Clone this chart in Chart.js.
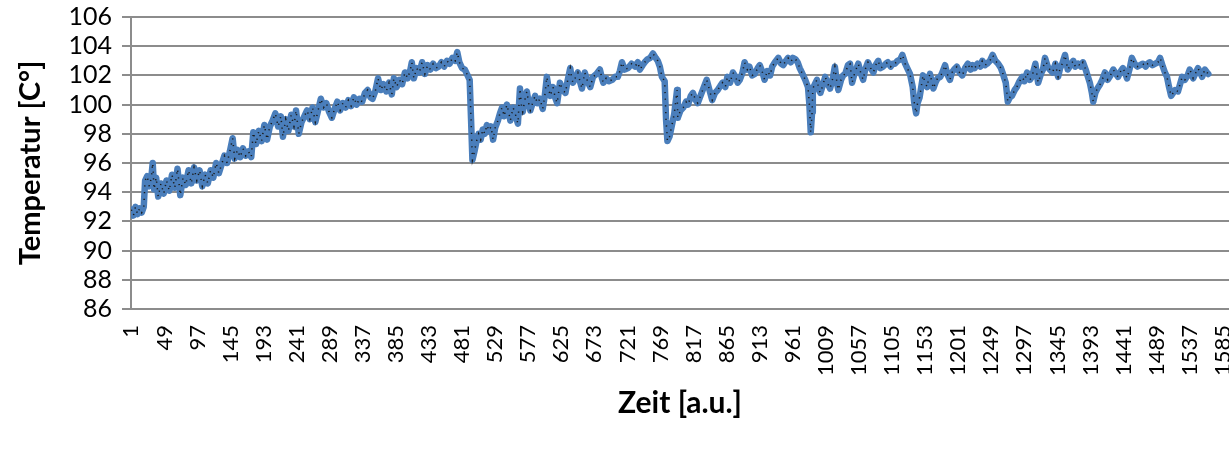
<!DOCTYPE html>
<html>
<head>
<meta charset="utf-8">
<script src="https://cdn.jsdelivr.net/npm/chart.js@4.4.1/dist/chart.umd.min.js"></script>
<style>
  html, body { margin: 0; padding: 0; background: #fff; }
  #wrap { width: 1229px; height: 450px; }
</style>
</head>
<body>
<div id="wrap"><canvas id="tempChart"></canvas></div>
<script>
// x tick labels (category numbers shown on the axis)
const xTickLabels = [1, 49, 97, 145, 193, 241, 289, 337, 385, 433, 481, 529, 577, 625, 673, 721, 769,
    817, 865, 913, 961, 1009, 1057, 1105, 1153, 1201, 1249, 1297, 1345, 1393, 1441, 1489, 1537, 1585];
const yTicks = [86, 88, 90, 92, 94, 96, 98, 100, 102, 104, 106];

const zeit = [
    1, 4, 7, 10, 13, 16, 19, 21, 24, 27, 30, 32, 34, 37, 40, 44, 48, 52, 56, 60, 64, 68, 72, 76, 80, 84, 88, 92, 96, 100,
    104, 108, 112, 116, 120, 124, 128, 132, 136, 140, 144, 148, 151, 155, 159, 163, 167, 171, 175, 178, 182, 186, 190, 194, 198,
    202, 206, 210, 214, 218, 221, 225, 229, 233, 237, 240, 244, 248, 252, 256,
    260, 264, 268, 272, 276, 280, 284, 288, 292, 296, 300, 304, 308, 312, 316, 320, 324, 328, 332, 336, 340, 344, 348, 351,
    355, 359, 363, 367, 371, 375, 379, 382, 386, 390, 394, 398, 402, 406, 408, 411, 415, 419, 423, 427, 431, 435, 439, 443,
    447, 451, 455, 459, 463, 467, 471, 474, 477, 481, 485, 489, 492, 494, 496, 499, 502, 505,
    508, 511, 514, 517, 520, 523, 526, 529, 533, 536, 539, 542, 546, 549, 551, 555, 558, 562, 565, 567, 569, 572, 575, 578,
    580, 584, 587, 590, 594, 598, 601, 604, 607, 609, 613, 616, 619, 623, 627, 631, 634, 638, 640, 642, 646, 649, 652, 655,
    659, 663, 667, 671, 676, 681, 684, 686, 690, 694, 699, 703, 707, 710, 713, 717, 722, 727, 732, 736, 739, 743, 746, 750,
    754, 758, 762, 765, 768, 771, 775, 777, 779,
    782, 786, 789, 793, 794, 798, 802, 806, 809, 813, 816, 820, 823, 827, 831, 836, 840, 844, 848, 852, 856, 859, 863, 866,
    870, 874, 878, 881, 884, 888, 891, 895, 898, 902, 906, 910, 913, 917, 920, 924, 928, 931, 935, 940, 944, 947, 951, 954,
    958, 961, 965, 968, 971, 974, 977, 979, 983, 985, 987, 989, 990, 993, 996, 999, 1001, 1005, 1008, 1012, 1015, 1019,
    1022, 1025, 1027, 1031, 1034, 1037, 1041,
    1044, 1047, 1051, 1056, 1060, 1063, 1066, 1070, 1074, 1078, 1081, 1085, 1088, 1092, 1096, 1099, 1103, 1106, 1109, 1113,
    1117, 1120, 1124, 1127, 1131, 1135, 1137, 1140, 1142, 1145, 1148, 1150, 1153, 1156, 1158, 1160, 1163, 1165, 1168, 1171,
    1175, 1178, 1182, 1185, 1189, 1192, 1195, 1199, 1203, 1207, 1211, 1215, 1219, 1222, 1225, 1229, 1233, 1236, 1240, 1243,
    1247, 1251, 1255, 1259, 1263, 1266, 1270, 1273, 1276, 1279, 1283, 1286, 1290, 1294, 1297, 1301,
    1305, 1308, 1313, 1317, 1321, 1324, 1327, 1331, 1334, 1338, 1342, 1346, 1349, 1352, 1356, 1360, 1364, 1368, 1371, 1375,
    1379, 1382, 1386, 1388, 1392, 1395, 1397, 1400, 1403, 1407, 1410, 1414, 1418, 1422, 1426, 1430, 1433, 1437, 1440, 1443,
    1446, 1450, 1453, 1457, 1461, 1465, 1469, 1473, 1476, 1479, 1483, 1487, 1491, 1494, 1498, 1501, 1504, 1507, 1510, 1513,
    1516, 1520, 1523, 1526, 1530, 1534, 1537, 1540, 1542, 1546, 1549, 1552, 1555, 1559, 1562, 1564
];

// temperature in °C at each index
const temperatur = [
    92.8, 92.4, 93.0, 92.5, 92.9, 92.6, 93.0, 94.8, 95.1, 94.4, 95.0, 96.0, 94.2, 95.0, 93.7, 94.6, 93.9, 94.8, 94.1, 95.2,
    94.3, 95.6, 93.8, 95.0, 94.5, 95.5, 94.6, 95.7, 94.8, 95.5,
    94.4, 95.2, 94.6, 95.5, 95.0, 96.0, 95.3, 95.9, 96.5, 96.0, 96.8, 97.7, 96.3, 96.9, 96.4, 97.0, 96.5, 96.8, 96.4, 98.1,
    97.3, 98.2, 97.5, 98.6, 97.6, 98.5, 98.9, 99.4, 98.5, 99.2, 97.8, 99.0, 98.2, 99.3, 98.5, 99.6, 98.0, 98.8, 99.2, 99.6,
    99.0, 99.8, 98.8, 99.6, 100.4, 99.8, 100.1, 99.5, 99.1, 99.7, 100.2, 99.6, 100.1, 99.8, 100.3, 99.9, 100.5, 100.0, 100.4,
    100.2, 100.8, 101.0, 100.5, 100.4,
    100.9, 101.8, 101.0, 101.4, 100.9, 101.5, 100.7, 101.8, 101.2, 101.7, 101.4, 102.2, 101.8, 102.4, 102.9, 101.8, 102.5,
    102.2, 102.9, 102.1, 102.7, 102.4, 102.8, 102.5,
    102.6, 102.9, 102.6, 103.0, 102.8, 103.2, 103.0, 103.6, 102.9, 102.5, 102.4, 102.0, 101.7, 99.0, 96.2, 96.8, 97.5, 98.0,
    97.6, 98.3, 98.0, 98.6, 98.2, 98.5, 97.6, 98.4, 98.9, 99.4, 99.8, 99.2, 100.0, 99.4, 98.9, 99.8, 99.4, 98.7, 101.1, 100.0,
    99.5, 100.3, 100.9, 100.0,
    99.6, 100.2, 100.6, 100.1, 100.4, 99.7, 100.6, 101.9, 101.0, 100.6, 101.2, 100.5, 100.1, 101.5, 101.0, 100.8, 101.6,
    102.5, 101.8, 101.5, 101.9, 102.2, 101.6, 101.1,
    102.2, 101.6, 101.2, 101.9, 102.1, 102.4, 101.8, 101.5, 101.8, 101.6, 101.7, 101.9, 101.9, 102.3, 102.9, 102.4, 102.5,
    102.8, 102.6, 102.9, 102.4, 102.7, 102.9, 103.1,
    103.2, 103.5, 103.2, 103.0, 102.6, 101.9, 101.6, 99.0, 97.5,
    97.8, 98.7, 99.4, 101.0, 99.1, 99.6, 99.8, 100.2, 100.0, 100.6, 100.8, 100.3, 100.1, 100.6, 101.1, 101.7, 101.0, 100.3,
    100.8, 101.0, 101.3, 101.5, 101.2, 101.9,
    101.5, 102.2, 101.9, 101.5, 101.7, 102.2, 102.9, 102.4, 102.6, 102.0, 102.1, 102.5, 102.7, 102.2, 101.7, 102.3, 102.0,
    102.6, 102.9, 103.2, 102.8, 102.7, 103.0, 103.2,
    102.9, 103.2, 103.1, 102.9, 102.5, 102.2, 101.9, 101.7, 101.2, 100.0, 98.1, 99.5, 101.1, 101.4, 101.7, 101.0, 100.8,
    101.4, 101.9, 101.4, 101.1, 101.8,
    102.6, 101.5, 101.0, 101.7, 102.0, 102.1, 102.7,
    102.8, 101.5, 102.2, 102.8, 102.1, 101.7, 102.4, 102.9, 102.5, 102.2, 102.7, 103.0, 102.5, 102.6, 102.8, 102.9, 102.6,
    102.8, 102.8, 103.0,
    103.1, 103.4, 102.8, 102.5, 102.1, 101.2, 100.2, 99.4, 100.1, 100.5, 101.4, 102.0, 101.5, 101.2, 101.8, 102.1, 101.5,
    101.1, 101.5, 101.8,
    101.9, 102.2, 102.7, 102.1, 101.7, 102.2, 102.4, 102.6, 102.2, 102.0, 102.5, 102.8, 102.4, 102.7, 102.5, 102.8, 102.6,
    103.0, 102.7, 102.8,
    103.0, 103.4, 103.0, 102.8, 102.5, 102.1, 101.5, 100.2, 100.5, 100.6, 101.0, 101.2, 101.6, 101.9, 101.6, 102.2,
    101.7, 101.9, 102.8, 101.5, 102.1, 102.4, 103.2, 102.6, 102.4, 102.2, 102.8, 101.9, 102.5, 102.8, 103.4, 102.4, 102.7,
    103.0, 102.6, 102.8,
    102.6, 102.9, 102.4, 102.1, 101.5, 100.8, 100.2, 100.8, 101.1, 101.4, 101.7, 102.2, 101.7, 102.0, 102.4, 102.1, 101.9,
    102.3, 102.5, 102.2,
    101.8, 102.5, 103.2, 102.8, 102.6, 102.7, 102.8, 102.6, 102.8, 102.9, 102.7, 102.8, 102.9, 103.2, 102.6, 102.2, 101.9,
    101.2, 100.6, 100.8,
    101.0, 100.9, 101.4, 101.9, 101.7, 102.0, 102.4, 102.1, 101.8, 102.2, 102.5, 102.2, 101.9, 102.4, 102.2, 102.1
];

const points = zeit.map((x, i) => ({ x: x, y: temperatur[i] }));

const gridGray = '#8c8c8c';
const fontFam = 'Lato, "Open Sans", sans-serif';

const ctx = document.getElementById('tempChart').getContext('2d');
new Chart(ctx, {
    type: 'line',
    data: {
        datasets: [{
            // thin dark dotted overlay seen on the line (drawn on top)
            label: 'Punkte',
            data: points,
            order: 1,
            borderColor: '#1a1a1a',
            borderWidth: 1.5,
            borderDash: [1.2, 5.5],
            pointRadius: 0,
            tension: 0,
            fill: false
        }, {
            label: 'Temperatur',
            data: points,
            order: 2,
            borderColor: '#4a7ebb',
            borderWidth: 6.5,
            borderJoinStyle: 'round',
            borderCapStyle: 'round',
            pointRadius: 0,
            tension: 0,
            fill: false
        }]
    },
    options: {
        responsive: true,
        maintainAspectRatio: false,
        animation: false,
        layout: { padding: { top: 17, right: 0, bottom: 0, left: 0 } },
        plugins: {
            legend: { display: false },
            tooltip: { enabled: false }
        },
        scales: {
            x: {
                type: 'linear',
                min: 0.5,
                max: 1594,
                afterBuildTicks: (scale) => {
                    scale.ticks = xTickLabels.map(v => ({ value: v }));
                },
                afterFit: (scale) => {
                    scale.height = 141;
                    scale.paddingLeft = 0;
                    scale.paddingRight = 0;
                },
                grid: { display: false },
                border: { display: true, color: gridGray, width: 2 },
                ticks: {
                    autoSkip: false,
                    maxRotation: 90,
                    minRotation: 90,
                    padding: 8,
                    color: '#000',
                    font: { family: fontFam, size: 22 },
                    callback: (v) => v
                },
                title: {
                    display: true,
                    text: 'Zeit [a.u.]',
                    color: '#000',
                    font: { family: fontFam, size: 30, weight: 'bold' },
                    padding: { top: 0, bottom: 29 }
                }
            },
            y: {
                min: 86,
                max: 106,
                afterBuildTicks: (scale) => {
                    scale.ticks = yTicks.map(v => ({ value: v }));
                },
                afterFit: (scale) => {
                    scale.width = 131;
                    scale.paddingTop = 0;
                    scale.paddingBottom = 0;
                },
                grid: { color: gridGray, lineWidth: 2, tickLength: 9 },
                border: { display: true, color: gridGray, width: 2 },
                ticks: {
                    autoSkip: false,
                    padding: 10,
                    color: '#000',
                    font: { family: fontFam, size: 25 }
                },
                title: {
                    display: true,
                    text: 'Temperatur [C°]',
                    color: '#000',
                    font: { family: fontFam, size: 29, weight: 'bold' },
                    padding: { top: 13, bottom: 0 }
                }
            }
        }
    }
});
</script>
</body>
</html>
